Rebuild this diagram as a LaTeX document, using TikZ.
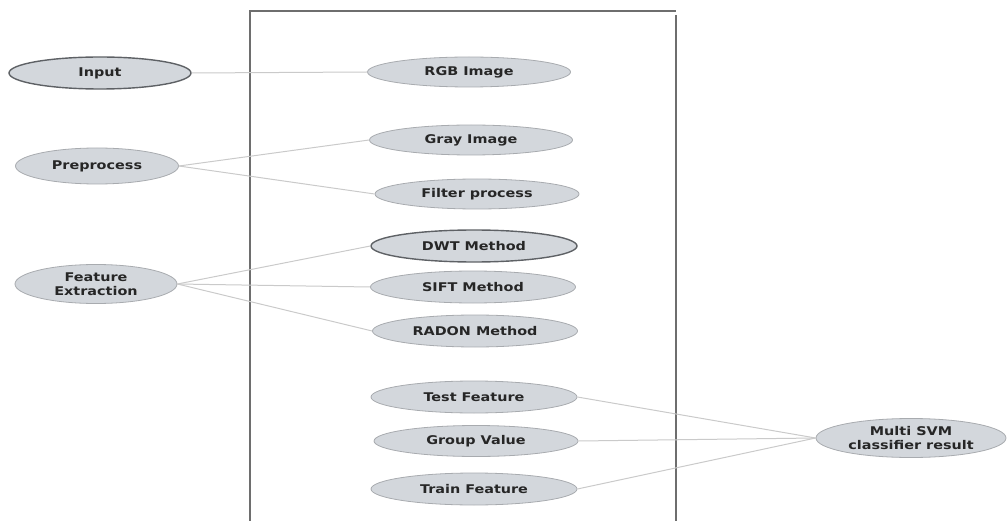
\documentclass[tikz,border=0pt]{standalone}
\usepackage{fontspec}
\setmainfont{DejaVu Sans}[FakeStretch=1.2]
\usetikzlibrary{shapes.geometric}
\definecolor{ellfill}{HTML}{D3D7DC}
\definecolor{ellline}{HTML}{A8ABAF}
\definecolor{darkline}{HTML}{5E6165}
\definecolor{conn}{HTML}{CACACA}
\definecolor{boxline}{HTML}{6E6E6E}
\tikzset{
  ell/.style={ellipse, draw=ellline, line width=0.8pt, fill=ellfill, inner sep=0pt,
    font=\fontsize{12}{14}\selectfont\bfseries, text=black!85, align=center},
  ellbold/.style={ell, draw=darkline, line width=1.4pt},
  link/.style={draw=conn, line width=1pt},
}
\begin{document}
\begin{tikzpicture}[x=1pt,y=-1pt]
\useasboundingbox (0,0) rectangle (1008,521);
% frame
\draw[boxline, line width=1.8pt] (250,521) -- (250,11) -- (676,11);
\draw[boxline, line width=1.8pt] (676,15) -- (676,521);
% left nodes
\node[ellbold, minimum width=182pt, minimum height=32pt] (input) at (100,73) {Input};
\node[ell, minimum width=163pt, minimum height=36pt] (pre) at (97,166) {Preprocess};
\node[ell, minimum width=162pt, minimum height=39pt] (feat) at (96,284) {Feature\\Extraction};
% middle nodes
\node[ell, minimum width=203pt, minimum height=30pt] (rgb) at (469,72) {RGB Image};
\node[ell, minimum width=203pt, minimum height=30pt] (gray) at (471,140) {Gray Image};
\node[ell, minimum width=204pt, minimum height=30pt] (filt) at (477,194) {Filter process};
\node[ellbold, minimum width=206pt, minimum height=32pt] (dwt) at (474,246) {DWT Method};
\node[ell, minimum width=205pt, minimum height=32pt] (sift) at (473,287) {SIFT Method};
\node[ell, minimum width=205pt, minimum height=32pt] (radon) at (475,331) {RADON Method};
\node[ell, minimum width=206pt, minimum height=32pt] (test) at (474,397) {Test Feature};
\node[ell, minimum width=204pt, minimum height=31pt] (group) at (476,441) {Group Value};
\node[ell, minimum width=206pt, minimum height=32pt] (train) at (474,489) {Train Feature};
% right node
\node[ell, minimum width=190pt, minimum height=39pt] (svm) at (911,438) {Multi SVM\\classifier result};
% connectors
\draw[link] (input.east) -- (rgb.west);
\draw[link] (pre.east) -- (gray.west);
\draw[link] (pre.east) -- (filt.west);
\draw[link] (feat.east) -- (dwt.west);
\draw[link] (feat.east) -- (sift.west);
\draw[link] (feat.east) -- (radon.west);
\draw[link] (test.east) -- (svm.west);
\draw[link] (group.east) -- (svm.west);
\draw[link] (train.east) -- (svm.west);
\end{tikzpicture}
\end{document}
